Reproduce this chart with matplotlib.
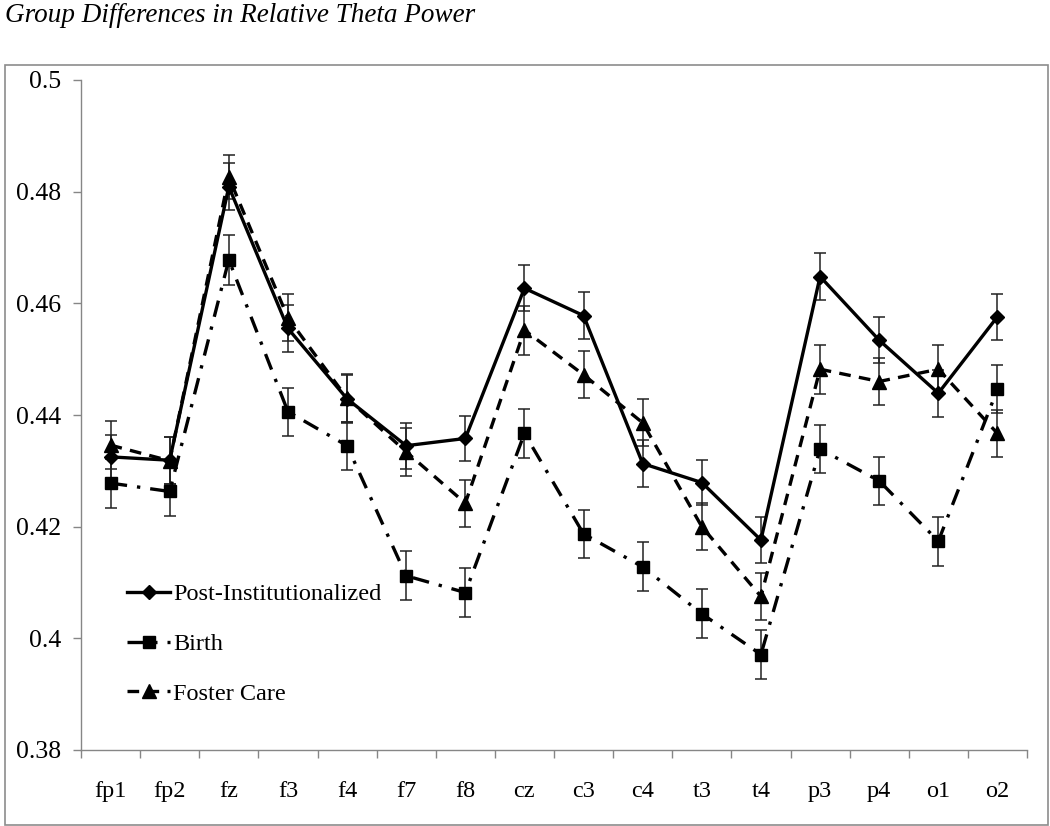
import numpy as np
import matplotlib
matplotlib.use("Agg")
import matplotlib.pyplot as plt
from matplotlib.patches import Rectangle

plt.rcParams['font.family'] = ['Liberation Serif', 'DejaVu Serif']

# ---- data ----
channels = ['fp1', 'fp2', 'fz', 'f3', 'f4', 'f7', 'f8', 'cz',
            'c3', 'c4', 't3', 't4', 'p3', 'p4', 'o1', 'o2']

post_inst = [0.4325, 0.4319, 0.4809, 0.4555, 0.4429, 0.4345, 0.4358, 0.4627,
             0.4578, 0.4313, 0.4279, 0.4176, 0.4648, 0.4534, 0.4439, 0.4576]
post_err = [0.0040, 0.0042, 0.0042, 0.0042, 0.0043, 0.0041, 0.0041, 0.0041,
            0.0042, 0.0042, 0.0041, 0.0041, 0.0042, 0.0041, 0.0042, 0.0041]

birth = [0.4278, 0.4263, 0.4678, 0.4406, 0.4345, 0.4112, 0.4082, 0.4367,
         0.4187, 0.4128, 0.4044, 0.3971, 0.4339, 0.4282, 0.4174, 0.4446]
birth_err = [0.0044, 0.0044, 0.0045, 0.0043, 0.0043, 0.0044, 0.0044, 0.0044,
             0.0043, 0.0044, 0.0044, 0.0044, 0.0043, 0.0043, 0.0044, 0.0043]

foster = [0.4346, 0.4318, 0.4826, 0.4574, 0.4430, 0.4334, 0.4242, 0.4552,
          0.4472, 0.4386, 0.4200, 0.4075, 0.4482, 0.4460, 0.4482, 0.4367]
foster_err = [0.0043, 0.0042, 0.0040, 0.0042, 0.0043, 0.0043, 0.0042, 0.0044,
              0.0042, 0.0042, 0.0042, 0.0042, 0.0044, 0.0042, 0.0043, 0.0042]

yticks = [0.38, 0.40, 0.42, 0.44, 0.46, 0.48, 0.50]
ytick_labels = ['0.38', '0.4', '0.42', '0.44', '0.46', '0.48', '0.5']

title = "Group Differences in Relative Theta Power"

# ---- figure ----
fig = plt.figure(figsize=(10.5, 8.26), dpi=100)
ax = fig.add_axes([81/1050, 1 - 750/826, 946/1050, 670/826])

x = np.arange(len(channels))
lw = 2.4
ecol = '#222222'
ekw = dict(ecolor=ecol, elinewidth=1.1, capsize=4, capthick=1.1)

c1 = ax.errorbar(x, post_inst, yerr=post_err, color='black', lw=lw, ls='-',
                 marker='D', ms=7.5, label='Post-Institutionalized', zorder=3, **ekw)
c2 = ax.errorbar(x, birth, yerr=birth_err, color='black', lw=lw, ls=(0, (5, 3, 1, 3)),
                 marker='s', ms=9, label='Birth', zorder=3, **ekw)
c3 = ax.errorbar(x, foster, yerr=foster_err, color='black', lw=lw, ls=(0, (3.5, 2.5)),
                 marker='^', ms=9.5, label='Foster Care', zorder=3, **ekw)

ax.set_xlim(-0.5, len(channels) - 0.5)
ax.set_ylim(0.38, 0.50)
ax.set_yticks(yticks)
ax.set_yticklabels(ytick_labels, fontsize=18.5)

# category labels at centers, tick marks at boundaries
ax.set_xticks(x)
ax.set_xticklabels(channels, fontsize=17.5)
ax.tick_params(axis='x', which='major', length=0, pad=22)
ax.set_xticks(np.arange(-0.5, len(channels)), minor=True)
ax.tick_params(axis='x', which='minor', length=6, width=1, color='#868686', direction='out')
ax.tick_params(axis='y', length=6, width=1, color='#868686', pad=8)

for s in ['top', 'right']:
    ax.spines[s].set_visible(False)
for s in ['left', 'bottom']:
    ax.spines[s].set_color('#868686')
    ax.spines[s].set_linewidth(1)

# legend uses only the lines (no error bars in the key)
handles = [c1[0], c2[0], c3[0]]
labels = ['Post-Institutionalized', 'Birth', 'Foster Care']
ax.legend(handles, labels, loc='lower left', bbox_to_anchor=(0.038, 0.053),
          frameon=False, fontsize=17.5, handlelength=1.8, handletextpad=0.1,
          labelspacing=1.14, borderaxespad=0)

# outer frame and title
fig.add_artist(Rectangle((5/1050, 1/826), 1043/1050, 760/826, transform=fig.transFigure,
                         fill=False, edgecolor='#8c8c8c', lw=1.2))
fig.text(5/1050, 1 - 16/826, title, fontsize=19.5, style='italic',
         ha='left', va='center')

fig.savefig('out.png', dpi=100)
